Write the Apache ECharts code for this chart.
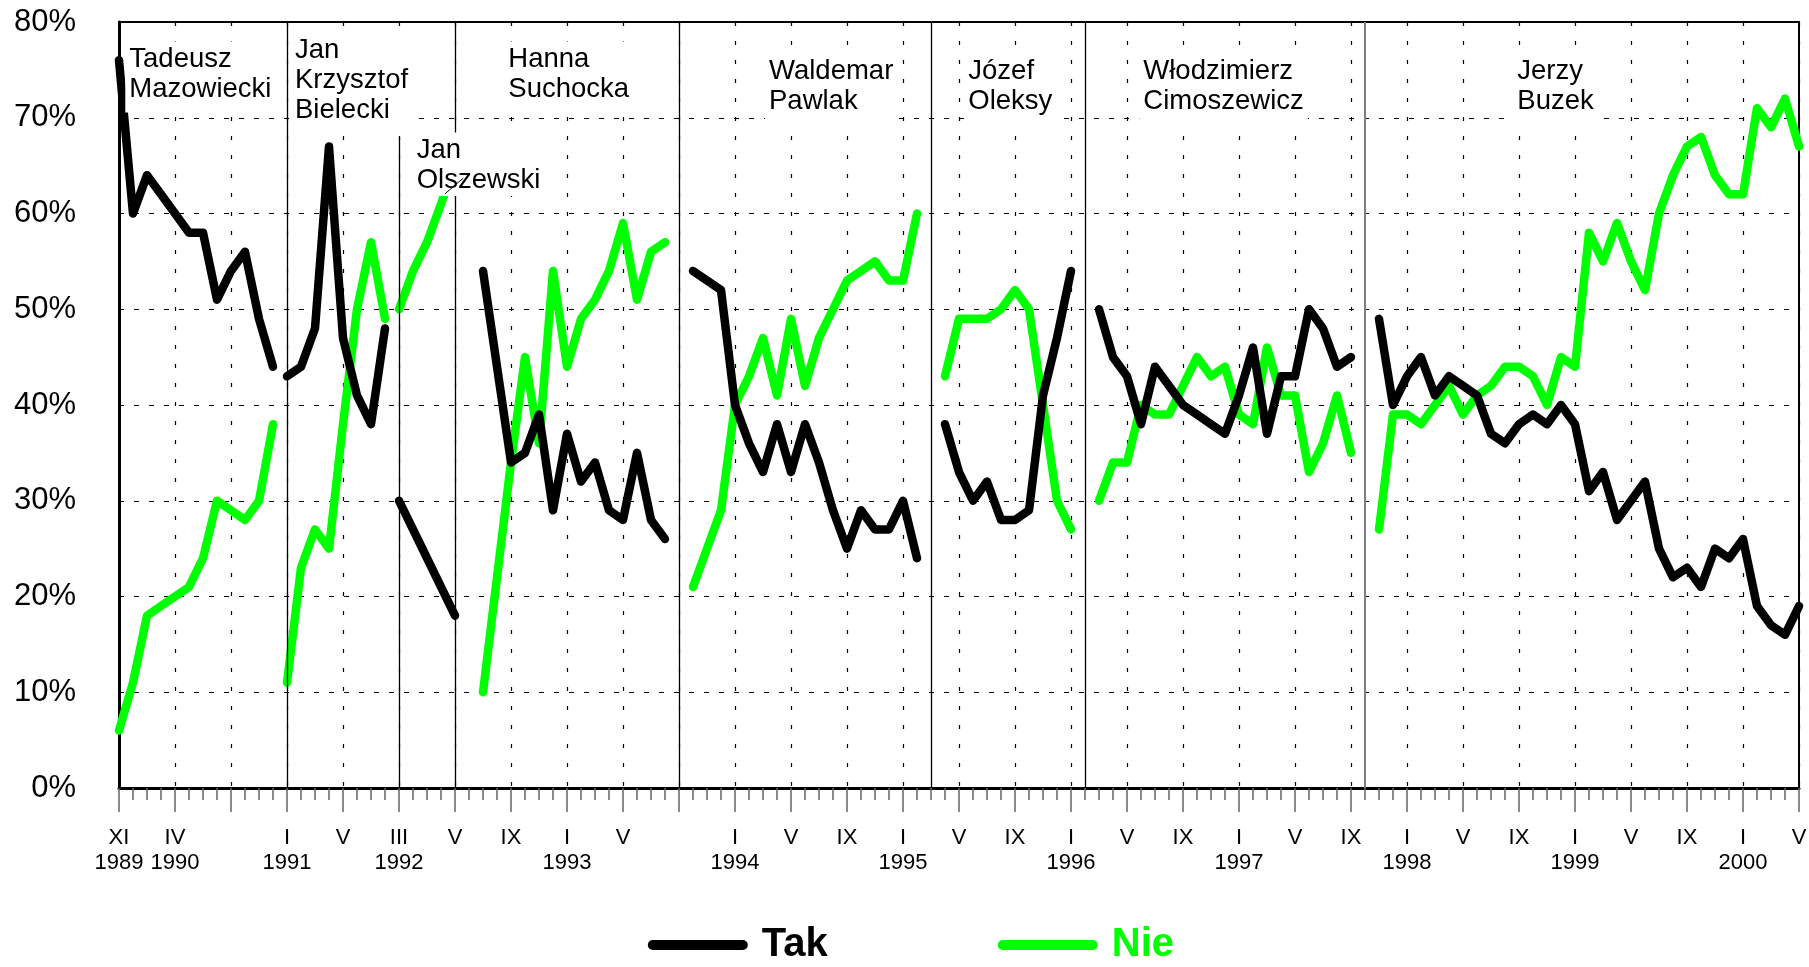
<!DOCTYPE html>
<html><head><meta charset="utf-8">
<script src="https://cdn.jsdelivr.net/npm/echarts@6/dist/echarts.min.js"></script>
<style>html,body{margin:0;padding:0;background:#fff}#chart{width:1809px;height:967px}</style>
</head><body><div id="chart"></div>
<script>
// ---- categories: one per survey (ordinal position on the axis) ----
const surveys = Array.from({length: 121}, (_, i) => String(i));
// ---- tick labels shown at every 4th survey ----
const tickMonths = ['XI','IV','','I','V','III','V','IX','I','V','','I','V','IX','I','V','IX','I','V','IX','I','V','IX','I','V','IX','I','V','IX','I','V'];
const tickYears  = ['1989','1990','','1991','','1992','','','1993','','','1994','','','1995','','','1996','','','1997','','','1998','','','1999','','','2000',''];

// ---- governments: first survey index of each ----
const governments = ['Mazowiecki','Bielecki','Olszewski','Suchocka','Pawlak','Oleksy','Cimoszewicz','Buzek'];
const govStarts = [0, 12, 20, 26, 41, 59, 70, 90];
const govBoundaries = ['12','24','40','58','69','89'];

// ---- "Tak" (yes) per government ----
const takMazowiecki  = [76,60,64,62,60,58,58,51,54,56,49,44];
const takBielecki    = [43,44,48,67,47,41,38,48];
const takOlszewski   = [30,27,24,21,18];
const takSuchocka    = [54,44,34,35,39,29,37,32,34,29,28,35,28,26];
const takPawlak      = [54,53,52,40,36,33,38,33,38,34,29,25,29,27,27,30,24];
const takOleksy      = [38,33,30,32,28,28,29,41,47,54];
const takCimoszewicz = [50,45,43,38,44,42,40,39,38,37,41,46,37,43,43,50,48,44,45];
const takBuzek       = [49,40,43,45,41,43,42,41,37,36,38,39,38,40,38,31,33,28,30,32,25,22,23,21,25,24,26,19,17,16,19];

// ---- "Nie" (no) per government ----
const nieMazowiecki  = [6,11,18,19,20,21,24,30,29,28,30,38];
const nieBielecki    = [11,23,27,25,38,50,57,49];
const nieOlszewski   = [50,54,57,61,65];
const nieSuchocka    = [10,22,34,45,36,54,44,49,51,54,59,51,56,57];
const niePawlak      = [21,25,29,40,43,47,41,49,42,47,50,53,54,55,53,53,60];
const nieOleksy      = [43,49,49,49,50,52,50,40,30,27];
const nieCimoszewicz = [30,34,34,40,39,39,42,45,43,44,39,38,46,41,41,33,36,41,35];
const nieBuzek       = [27,39,39,38,40,42,39,41,42,44,44,43,40,45,44,58,55,59,55,52,60,64,67,68,64,62,62,71,69,72,67];

const takSegments = [takMazowiecki, takBielecki, takOlszewski, takSuchocka, takPawlak, takOleksy, takCimoszewicz, takBuzek];
const nieSegments = [nieMazowiecki, nieBielecki, nieOlszewski, nieSuchocka, niePawlak, nieOleksy, nieCimoszewicz, nieBuzek];

// ---- prime-minister labels ----
const pmNames = ['Tadeusz\nMazowiecki','Jan\nKrzysztof\nBielecki','Jan\nOlszewski','Hanna\nSuchocka','Waldemar\nPawlak','Józef\nOleksy','Włodzimierz\nCimoszewicz','Jerzy\nBuzek'];

const FONT = '"Liberation Sans", Arial, sans-serif';
const TAK_COLOR = '#000000';
const NIE_COLOR = '#00ff00';
const LINE_W = 8.5;

function place(start, values) {
  const a = new Array(surveys.length).fill(null);
  values.forEach((v, k) => { a[start + k] = v; });
  return a;
}

// label placement (pixels) — layout only
const pmLayout = [
  {x: 129.3, top: 44.6, pb: 8},
  {x: 295,   top: 35.5, pb: 9},
  {x: 416.7, top: 135.5, pb: 0.5},
  {x: 508.3, top: 44.5, pb: 8},
  {x: 769,   top: 56,   pb: 8},
  {x: 968.3, top: 56,   pb: 8},
  {x: 1143.3,top: 56,   pb: 8},
  {x: 1517.3,top: 56,   pb: 8}
];

const series = [];
governments.forEach((g, k) => {
  series.push({
    name: 'Nie', type: 'line', xAxisIndex: 0, yAxisIndex: 0,
    data: place(govStarts[k], nieSegments[k]),
    showSymbol: false, symbol: 'none', connectNulls: false, z: 3,
    itemStyle: {color: NIE_COLOR},
    lineStyle: {color: NIE_COLOR, width: LINE_W, cap: 'round', join: 'round'},
    emphasis: {disabled: true}, silent: true
  });
});
governments.forEach((g, k) => {
  const s = {
    name: 'Tak', type: 'line', xAxisIndex: 0, yAxisIndex: 0,
    data: place(govStarts[k], takSegments[k]),
    showSymbol: false, symbol: 'none', connectNulls: false, z: 4,
    itemStyle: {color: TAK_COLOR},
    lineStyle: {color: TAK_COLOR, width: LINE_W, cap: 'round', join: 'round'},
    emphasis: {disabled: true}, silent: true
  };
  if (k === 0) {
    s.markLine = {
      silent: true, symbol: ['none','none'], label: {show: false}, animation: false,
      emphasis: {disabled: true},
      lineStyle: {color: '#000', width: 1.3, type: 'solid'},
      data: govBoundaries.map((b, j) => j === govBoundaries.length - 1
        ? {xAxis: b, lineStyle: {color: '#808080', width: 2, type: 'solid'}}
        : {xAxis: b}).concat([[{coord: ['20', 68]}, {coord: ['20', 0]}]])
    };
  }
  series.push(s);
});

const graphicEls = pmNames.map((t, k) => ({
  type: 'text', x: pmLayout[k].x - 4, y: pmLayout[k].top - 3, z: 100, silent: true,
  style: {
    text: t, font: '27.5px ' + FONT, fill: '#000', lineHeight: 30,
    backgroundColor: '#fff', padding: [3, 4, pmLayout[k].pb, 4],
    align: 'left', verticalAlign: 'top'
  }
}));
graphicEls.push({
  type: 'line', z: 101, silent: true,
  shape: {x1: 445, y1: 193.8, x2: 463.3, y2: 178.1},
  style: {stroke: '#000', lineWidth: 1}
});

const chart = echarts.init(document.getElementById('chart'), null, {renderer: 'canvas'});
chart.setOption({
  animation: false,
  backgroundColor: '#fff',
  grid: {left: 119, top: 22, width: 1680, height: 766, show: true, borderColor: '#000', borderWidth: 2,
         containLabel: false, outerBoundsMode: 'none'},
  legend: {
    left: 642.8, top: 920, itemWidth: 100, itemHeight: 10, itemGap: 170,
    icon: 'path://M5,0 L95,0 A5,5 0 0 1 95,10 L5,10 A5,5 0 0 1 5,0 Z',
    selectedMode: false,
    textStyle: {fontSize: 40, fontWeight: 'bold', fontFamily: FONT, padding: [12, 0, 0, 9]},
    data: [{name: 'Tak', textStyle: {color: TAK_COLOR}}, {name: 'Nie', textStyle: {color: NIE_COLOR}}]
  },
  xAxis: [
    {
      type: 'category', data: surveys, boundaryGap: false, gridIndex: 0, position: 'bottom',
      axisLine: {show: true, onZero: false, lineStyle: {color: '#000', width: 3}},
      axisTick: {show: true, interval: 0, length: 12, lineStyle: {color: '#666', width: 1.5}},
      axisLabel: {show: false}, splitLine: {show: false}
    },
    {
      type: 'category', data: surveys, boundaryGap: false, gridIndex: 0, position: 'bottom',
      axisLine: {show: false, onZero: false},
      axisTick: {show: true, interval: 3, length: 24, lineStyle: {color: '#666', width: 1.5}},
      axisLabel: {
        show: true, interval: 3, margin: 37.5, fontSize: 22, lineHeight: 25, color: '#000', fontFamily: FONT,
        formatter: function (v, i) {
          const k = Math.round(i / 4);
          const m = tickMonths[k] || '';
          const y = tickYears[k] || '';
          return y ? (m + '\n' + y) : m;
        }
      },
      splitLine: {show: true, interval: 3, lineStyle: {type: [4, 15], color: '#000', width: 1.2}}
    }
  ],
  yAxis: {
    type: 'value', min: 0, max: 80, interval: 10,
    axisLine: {show: true, lineStyle: {color: '#000', width: 3}},
    axisTick: {show: false},
    axisLabel: {formatter: '{value}%', fontSize: 31, color: '#000', margin: 43, fontFamily: FONT},
    splitLine: {show: true, lineStyle: {type: [5, 10], color: '#000', width: 1}}
  },
  graphic: {elements: graphicEls},
  series: series
});
</script></body></html>
